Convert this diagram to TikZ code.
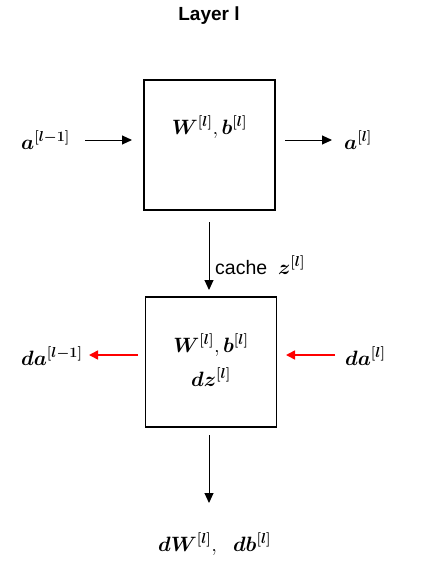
\documentclass[tikz,border=0pt]{standalone}
\usepackage{amsmath}
\usepackage{bm}
\usepackage{fontspec}
\setsansfont{Liberation Sans}
\usetikzlibrary{arrows.meta}
\tikzset{
  blk/.style={draw, line width=1.5pt, minimum width=131pt, minimum height=130pt, inner sep=0pt},
  mth/.style={font=\huge, inner sep=0pt},
  arr/.style={line width=1pt, -{Triangle[length=10pt,width=9pt]}},
  rarr/.style={line width=1.6pt, draw=red, -{Triangle[length=9pt,width=9pt,fill=red]}},
}
\begin{document}
\begin{tikzpicture}[x=1pt,y=-1pt]
\useasboundingbox (0,0) rectangle (442,570);
\node[font=\sffamily\bfseries\fontsize{19}{22}\selectfont, inner sep=0pt] (title) at (209,16) {Layer l};
% forward block
\node[blk] (f) at (209.5,145) {};
\node[mth] (fw) at (209.5,127) {$\bm{W^{[l]}},\bm{b^{[l]}}$};
\node[mth, anchor=west] (ain) at (21,140) {$\bm{a^{[l-1]}}$};
\node[mth, anchor=west] (aout) at (344,140) {$\bm{a^{[l]}}$};
\coordinate (ain1) at (85,140);
\coordinate (ain2) at (132,140);
\coordinate (aout1) at (285,140);
\coordinate (aout2) at (332,140);
\draw[arr] (ain1) -- (ain2);
\draw[arr] (aout1) -- (aout2);
% backward block
\node[blk] (b) at (211,362) {};
\node[mth] (bw) at (211,345) {$\bm{W^{[l]}},\bm{b^{[l]}}$};
\node[mth] (bz) at (211,377) {$\bm{dz^{[l]}}$};
\coordinate (c1) at (209,222);
\coordinate (c2) at (209,290);
\draw[arr] (c1) -- (c2);
\node[anchor=west, inner sep=0pt] (cache) at (215,265) {\sffamily\fontsize{19.5}{22}\selectfont cache\ \ \huge$\bm{z^{[l]}}$};
\node[mth, anchor=west] (dal) at (21,356) {$\bm{da^{[l-1]}}$};
\node[mth, anchor=west] (da) at (345,356) {$\bm{da^{[l]}}$};
\coordinate (r1) at (138,355);
\coordinate (r2) at (89,355);
\coordinate (r3) at (335,355);
\coordinate (r4) at (286,355);
\draw[rarr] (r1) -- (r2);
\draw[rarr] (r3) -- (r4);
\coordinate (d1) at (209,435);
\coordinate (d2) at (209,503);
\draw[arr] (d1) -- (d2);
\node[mth, anchor=west] (out) at (158,544) {$\bm{dW^{[l]}},\ \ \bm{db^{[l]}}$};
\end{tikzpicture}
\end{document}
